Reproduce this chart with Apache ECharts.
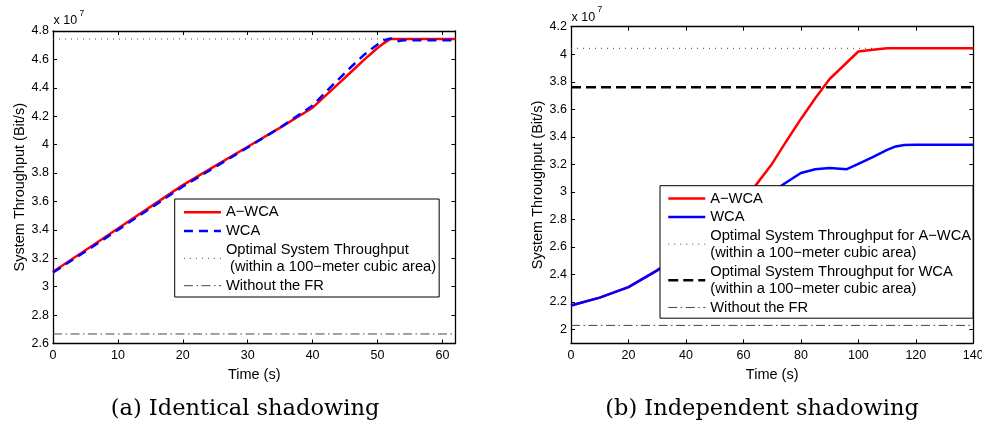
<!DOCTYPE html>
<html>
<head>
<meta charset="utf-8">
<script src="https://cdn.jsdelivr.net/npm/echarts@6/dist/echarts.min.js"></script>
<style>
html,body{margin:0;padding:0;background:#fff;}
#c{width:982px;height:425px;}
</style>
</head>
<body>
<div id="c"></div>
<script>
// ---------- data (values in units of 1e7 bit/s) ----------
const leftTime = [0,5,10,15,20,25,30,35,40,42,44,46,48,50,51,52,53,54,56,58,60,62];
const leftAWCA = [3.105,3.257,3.41,3.562,3.715,3.85,3.985,4.12,4.26,4.345,4.43,4.515,4.6,4.68,4.715,4.744,4.744,4.744,4.744,4.744,4.744,4.744];
const leftWCA  = [3.10,3.248,3.40,3.552,3.705,3.843,3.98,4.12,4.275,4.37,4.46,4.55,4.635,4.705,4.735,4.748,4.728,4.735,4.735,4.735,4.735,4.735];
const leftOptimal = 4.744;
const leftNoFR = 2.667;
const leftXRange = [0, 62];
const leftXTicks = [0,10,20,30,40,50,60];
const leftYRange = [2.6, 4.8];
const leftYTicks = [2.6,2.8,3,3.2,3.4,3.6,3.8,4,4.2,4.4,4.6,4.8];

const rightTime = [0,10,20,30,40,50,55,60,64,70,75,80,85,90,96,100,105,110,113,116,120,130,140];
const rightAWCA = [2.175,2.232,2.308,2.43,2.57,2.73,2.82,2.92,3.04,3.205,3.37,3.53,3.68,3.82,3.94,4.02,4.032,4.043,4.043,4.043,4.043,4.043,4.043];
const rightWCA  = [2.175,2.232,2.308,2.43,2.57,2.72,2.80,2.875,2.93,3.0,3.07,3.137,3.165,3.174,3.165,3.203,3.253,3.305,3.33,3.34,3.342,3.342,3.342];
const rightOptimalAWCA = 4.043;
const rightOptimalWCA = 3.76;
const rightNoFR = 2.03;
const rightXRange = [0, 140];
const rightXTicks = [0,20,40,60,80,100,120,140];
const rightYRange = [1.9, 4.2];
const rightYTicks = [2,2.2,2.4,2.6,2.8,3,3.2,3.4,3.6,3.8,4,4.2];

const namesLeft = ['A\u2212WCA','WCA','Optimal System Throughput\n (within a 100\u2212meter cubic area)','Without the FR'];
const namesRight = ['b:A\u2212WCA','b:WCA','b:Optimal System Throughput for A\u2212WCA\n(within a 100\u2212meter cubic area)','b:Optimal System Throughput for WCA\n(within a 100\u2212meter cubic area)','b:Without the FR'];
const captions = ['(a) Identical shadowing','(b) Independent shadowing'];

// ---------- helpers ----------
const FONT = "'Liberation Sans', Arial, Helvetica, sans-serif";
const pairs = (xs, ys) => xs.map((x, i) => [x, ys[i]]);
const hline = (range, v) => [[range[0], v], [range[1], v]];

function axesFor(gi, xr, xt, yr, yt) {
  const common = {
    axisLine: {show: true, onZero: false, lineStyle: {color: '#000', width: 1.3}},
    axisTick: {show: true, inside: true, length: 4, lineStyle: {color: '#000', width: 1}},
    splitLine: {show: false}
  };
  const xa = [
    Object.assign({}, common, {type: 'value', gridIndex: gi, position: 'bottom', min: xr[0], max: xr[1],
      axisTick: Object.assign({}, common.axisTick, {customValues: xt}),
      axisLabel: {customValues: xt, margin: 6, color: '#000', fontSize: 12.5, fontFamily: FONT},
      name: 'Time (s)', nameLocation: 'middle', nameGap: 19,
      nameTextStyle: {color: '#000', fontSize: 14.5, fontFamily: FONT, verticalAlign: 'top'}}),
    Object.assign({}, common, {type: 'value', gridIndex: gi, position: 'top', min: xr[0], max: xr[1],
      axisTick: Object.assign({}, common.axisTick, {customValues: xt}),
      axisLabel: {show: false}})
  ];
  const ya = [
    Object.assign({}, common, {type: 'value', gridIndex: gi, position: 'left', min: yr[0], max: yr[1],
      axisTick: Object.assign({}, common.axisTick, {customValues: yt}),
      axisLabel: {customValues: yt, margin: 4, color: '#000', fontSize: 12.5, fontFamily: FONT},
      name: 'System Throughput (Bit/s)', nameLocation: 'middle', nameGap: 25,
      nameTextStyle: {color: '#000', fontSize: 14.5, fontFamily: FONT}}),
    Object.assign({}, common, {type: 'value', gridIndex: gi, position: 'right', min: yr[0], max: yr[1],
      axisTick: Object.assign({}, common.axisTick, {customValues: yt}),
      axisLabel: {show: false}})
  ];
  return {xa, ya};
}

const L = axesFor(0, leftXRange, leftXTicks, leftYRange, leftYTicks);
const R = axesFor(1, rightXRange, rightXTicks, rightYRange, rightYTicks);

function line(name, xi, yi, data, color, width, type, z) {
  return {type: 'line', name, xAxisIndex: xi, yAxisIndex: yi, data, symbol: 'none',
    lineStyle: {color, width, type: type || 'solid'}, itemStyle: {color}, z: z || 2,
    animation: false, silent: true, clip: true};
}

const dotted = [1, 5];
const dashDot = [9, 3.5, 1.5, 3.5];

const series = [
  line(namesLeft[0], 0, 0, pairs(leftTime, leftAWCA), '#ff0000', 2.5, 'solid', 3),
  line(namesLeft[1], 0, 0, pairs(leftTime, leftWCA), '#0000ff', 2.5, [9, 6], 4),
  line(namesLeft[2], 0, 0, hline(leftXRange, leftOptimal), '#444', 1, dotted, 2),
  line(namesLeft[3], 0, 0, hline(leftXRange, leftNoFR), '#444', 1, dashDot, 2),
  line(namesRight[0], 2, 2, pairs(rightTime, rightAWCA), '#ff0000', 2.5, 'solid', 3),
  line(namesRight[1], 2, 2, pairs(rightTime, rightWCA), '#0000ff', 2.5, 'solid', 4),
  line(namesRight[2], 2, 2, hline(rightXRange, rightOptimalAWCA), '#444', 1, dotted, 2),
  line(namesRight[3], 2, 2, hline(rightXRange, rightOptimalWCA), '#000', 2.5, [10, 5], 2),
  line(namesRight[4], 2, 2, hline(rightXRange, rightNoFR), '#444', 1, dashDot, 2)
];

const legendCommon = {
  orient: 'vertical', itemGap: 1, itemWidth: 37, itemHeight: 12,
  backgroundColor: '#fff', borderColor: '#000', borderWidth: 1, borderRadius: 0,
  selectedMode: false, z: 10,
  itemStyle: {opacity: 0},
  lineStyle: {width: 'inherit', type: 'inherit', color: 'inherit'},
  formatter: n => n.replace(/^b:/, ''),
  textStyle: {color: '#000', fontSize: 14.7, fontFamily: FONT}
};

const chart = echarts.init(document.getElementById('c'), null, {renderer: 'canvas'});
chart.setOption({
  animation: false,
  backgroundColor: '#fff',
  grid: [
    {left: 53, top: 31, width: 402.4, height: 312.5, containLabel: false, outerBoundsMode: 'none'},
    {left: 571, top: 26.7, width: 402.3, height: 316.6, containLabel: false, outerBoundsMode: 'none'}
  ],
  xAxis: [L.xa[0], L.xa[1], R.xa[0], R.xa[1]],
  yAxis: [L.ya[0], L.ya[1], R.ya[0], R.ya[1]],
  legend: [
    Object.assign({}, legendCommon, {data: namesLeft, left: 174.7, top: 199, padding: [4.5, 3, 2.5, 8],
      textStyle: Object.assign({}, legendCommon.textStyle, {lineHeight: 17.6})}),
    Object.assign({}, legendCommon, {data: namesRight, left: 660, top: 185.7, padding: [4, 2, 2, 7],
      textStyle: Object.assign({}, legendCommon.textStyle, {lineHeight: 17.5})})
  ],
  graphic: [
    {type: 'text', x: 53.5, y: 21, style: {text: 'x 10', font: "12.5px " + FONT, fill: '#000', verticalAlign: 'middle'}},
    {type: 'text', x: 79.5, y: 14, style: {text: '7', font: "8.5px " + FONT, fill: '#000', verticalAlign: 'middle'}},
    {type: 'text', x: 571.5, y: 17.5, style: {text: 'x 10', font: "12.5px " + FONT, fill: '#000', verticalAlign: 'middle'}},
    {type: 'text', x: 597.5, y: 10, style: {text: '7', font: "8.5px " + FONT, fill: '#000', verticalAlign: 'middle'}},
    {type: 'text', x: 245, y: 409, style: {text: captions[0], font: "22.5px 'DejaVu Serif', serif", fill: '#000', align: 'center', verticalAlign: 'middle'}},
    {type: 'text', x: 762, y: 409, style: {text: captions[1], font: "22.5px 'DejaVu Serif', serif", fill: '#000', align: 'center', verticalAlign: 'middle'}}
  ],
  series
});
</script>
</body>
</html>
